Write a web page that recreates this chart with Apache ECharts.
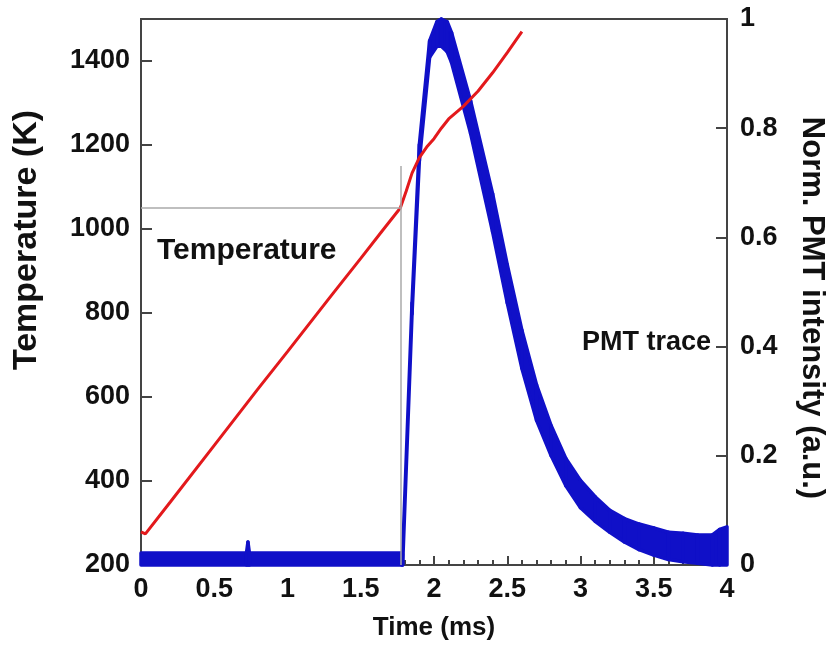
<!DOCTYPE html>
<html>
<head>
<meta charset="utf-8">
<script src="https://cdn.jsdelivr.net/npm/echarts@6/dist/echarts.min.js"></script>
<style>
  html, body { margin: 0; padding: 0; background: #fff; }
  #chart { width: 835px; height: 651px; }
</style>
</head>
<body>
<div id="chart"></div>
<script>
// ---- Data ----
const tempTime = [0, 0.03, 0.2, 0.5, 0.8, 1.0, 1.3, 1.5, 1.65, 1.77, 1.81, 1.85, 1.9, 1.95, 2.0, 2.05, 2.1, 2.2, 2.3, 2.4, 2.5, 2.6];
const tempK    = [279, 274, 350, 485, 620, 708, 842, 930, 997, 1050, 1090, 1133, 1170, 1195, 1215, 1240, 1262, 1292, 1328, 1372, 1420, 1470];

const pmtTime = [0, 0.72, 0.73, 0.74, 1.78, 1.786, 1.85, 1.90, 1.97, 2.02, 2.05, 2.09, 2.12, 2.25, 2.4, 2.5, 2.6, 2.7, 2.8, 2.9, 3.0, 3.1, 3.2, 3.3, 3.4, 3.5, 3.6, 3.7, 3.8, 3.9, 3.95, 4.0];
const pmtLow  = [0, 0, 0, 0, 0, 0, 0.46, 0.74, 0.93, 0.95, 0.95, 0.94, 0.92, 0.79, 0.61, 0.48, 0.36, 0.265, 0.20, 0.145, 0.105, 0.08, 0.06, 0.042, 0.028, 0.018, 0.01, 0.006, 0.003, 0, 0, 0];
const pmtHigh = [0.022, 0.022, 0.042, 0.022, 0.022, 0.02, 0.48, 0.77, 0.96, 0.995, 1.0, 0.995, 0.975, 0.85, 0.68, 0.55, 0.43, 0.33, 0.255, 0.195, 0.155, 0.125, 0.10, 0.085, 0.075, 0.068, 0.06, 0.058, 0.055, 0.055, 0.065, 0.07];

// reference (gray) guide lines
const refTime = 1.773;
const refTemp = 1050;
const refTop  = 1150;

const xTitle = 'Time (ms)';
const yLeftTitle = 'Temperature (K)';
const yRightTitle = 'Norm. PMT intensity (a.u.)';
const tempLabel = 'Temperature';
const pmtLabel = 'PMT trace';

// ---- Chart ----
const FONT = "'Liberation Sans', Arial, sans-serif";
const RED = '#e3191c';
const BLUE = '#1010c8';
const AXIS = '#444';

const chart = echarts.init(document.getElementById('chart'), null, { renderer: 'canvas' });

// each item: one segment of the PMT noise band, [t0, low0, high0, t1, low1, high1]
const bandData = [];
for (let i = 0; i < pmtTime.length - 1; i++) {
  bandData.push([pmtTime[i], pmtLow[i], pmtHigh[i], pmtTime[i + 1], pmtLow[i + 1], pmtHigh[i + 1]]);
}
const tempData = tempTime.map((t, i) => [t, tempK[i]]);

const labelStyle = { color: '#111', fontFamily: FONT, fontWeight: 'bold', fontSize: 27 };

chart.setOption({
  animation: false,
  backgroundColor: '#fff',
  grid: { left: 141, right: 108, top: 19, bottom: 86, show: true, borderColor: AXIS, borderWidth: 2, backgroundColor: 'transparent' },
  xAxis: {
    type: 'value', min: 0, max: 4, interval: 0.5,
    name: xTitle, nameLocation: 'middle', nameGap: 50,
    nameTextStyle: { color: '#111', fontFamily: FONT, fontWeight: 'bold', fontSize: 26 },
    axisLine: { show: true, lineStyle: { color: AXIS, width: 2 } },
    axisTick: { show: true, inside: true, length: 9, lineStyle: { color: AXIS, width: 2 } },
    minorTick: { show: true, splitNumber: 5, length: 5, lineStyle: { color: AXIS, width: 2 } },
    splitLine: { show: false },
    axisLabel: Object.assign({ margin: 11 }, labelStyle)
  },
  yAxis: [
    {
      type: 'value', min: 200, max: 1500, interval: 200, position: 'left',
      axisLine: { show: true, lineStyle: { color: AXIS, width: 2 } },
      axisTick: { show: true, inside: true, length: 11, lineStyle: { color: AXIS, width: 2 } },
      splitLine: { show: false },
      axisLabel: Object.assign({ margin: 11, formatter: v => (v > 1400 ? '' : String(v)) }, labelStyle)
    },
    {
      type: 'value', min: 0, max: 1, interval: 0.2, position: 'right',
      axisLine: { show: true, lineStyle: { color: AXIS, width: 2 } },
      axisTick: { show: true, inside: true, length: 11, lineStyle: { color: AXIS, width: 2 } },
      splitLine: { show: false },
      axisLabel: Object.assign({ margin: 13 }, labelStyle)
    }
  ],
  graphic: [
    { type: 'text', x: 27, y: 240, rotation: Math.PI / 2,
      style: { text: yLeftTitle, fill: '#111', font: "bold 34px " + FONT, align: 'center', verticalAlign: 'middle' } },
    { type: 'text', x: 812, y: 308, rotation: -Math.PI / 2,
      style: { text: yRightTitle, fill: '#111', font: "bold 31px " + FONT, align: 'center', verticalAlign: 'middle' } },
    { type: 'text', x: 157, y: 251,
      style: { text: tempLabel, fill: '#111', font: "bold 30px " + FONT, align: 'left', verticalAlign: 'middle' } },
    { type: 'text', x: 582, y: 343,
      style: { text: pmtLabel, fill: '#111', font: "bold 27px " + FONT, align: 'left', verticalAlign: 'middle' } }
  ],
  series: [
    {
      name: 'PMT trace', type: 'custom', xAxisIndex: 0, yAxisIndex: 1, data: bandData, z: 3,
      encode: { x: [0, 3], y: [1, 2, 4, 5] },
      renderItem: function (params, api) {
        const a = api.coord([api.value(0), api.value(2)]);
        const b = api.coord([api.value(3), api.value(5)]);
        const c = api.coord([api.value(3), api.value(4)]);
        const d = api.coord([api.value(0), api.value(1)]);
        return {
          type: 'polygon',
          shape: { points: [a, b, c, d] },
          style: { fill: BLUE, stroke: BLUE, lineWidth: 3.5, lineJoin: 'round' }
        };
      }
    },
    {
      name: 'Temperature', type: 'line', yAxisIndex: 0, data: tempData,
      showSymbol: false, symbol: 'none', z: 4,
      lineStyle: { color: RED, width: 3 },
      markLine: {
        silent: true, symbol: 'none', animation: false,
        label: { show: false },
        lineStyle: { color: '#aaa', width: 1.5, type: 'solid' },
        data: [
          [{ coord: [0, refTemp] }, { coord: [refTime, refTemp] }],
          [{ coord: [refTime, 200] }, { coord: [refTime, refTop] }]
        ]
      }
    }
  ]
});
</script>
</body>
</html>
